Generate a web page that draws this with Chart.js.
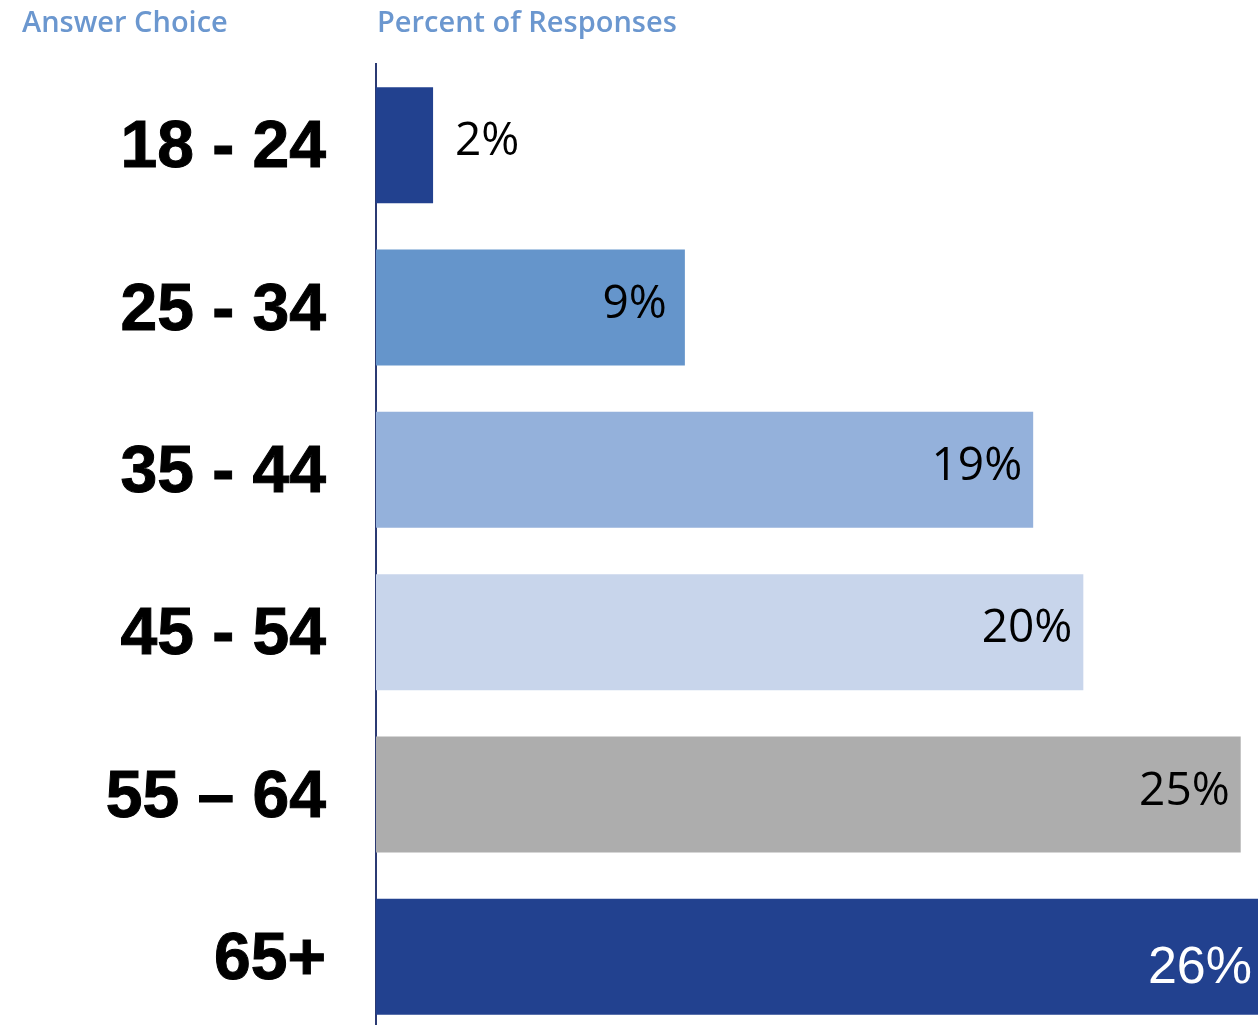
<!DOCTYPE html>
<html>
<head>
<meta charset="utf-8">
<script src="https://cdn.jsdelivr.net/npm/chart.js@4.4.1/dist/chart.umd.min.js"></script>
<style>
  html, body { margin: 0; padding: 0; background: #fff; overflow: hidden; }
  #frame { width: 1258px; height: 1025px; overflow: hidden; position: relative; }
  #ageChart { position: absolute; left: 0; top: 0; }
</style>
</head>
<body>
<div id="frame"><canvas id="ageChart" width="1258" height="1038"></canvas></div>
<script>
// ---------- DATA ----------
const ageGroups = ['18 - 24', '25 - 34', '35 - 44', '45 - 54', '55 \u2013 64', '65+'];
const responsePct = [1.65, 8.93, 19.0, 20.45, 25.0, 26.0];
const barColors = ['#22418f', '#6595cb', '#94b1db', '#c8d5eb', '#adadad', '#22418f'];
const headerLeft = 'Answer Choice';
const headerRight = 'Percent of Responses';

// headers above the chart
const headerPlugin = {
  id: 'headers',
  afterDraw(chart) {
    const ctx = chart.ctx;
    ctx.save();
    ctx.fillStyle = '#6b97cf';
    ctx.font = '600 29px "Open Sans"';
    ctx.textBaseline = 'alphabetic';
    ctx.textAlign = 'left';
    ctx.fillText(headerLeft, 22, 32);
    ctx.fillText(headerRight, 377, 32);
    ctx.restore();
  }
};

// value labels at bar ends
const valueLabels = {
  id: 'valueLabels',
  afterDatasetsDraw(chart) {
    const ctx = chart.ctx;
    const area = chart.chartArea;
    const meta = chart.getDatasetMeta(0);
    ctx.save();
    ctx.textBaseline = 'middle';
    meta.data.forEach(function (bar, i) {
      const txt = Math.round(responsePct[i]) + '%';
      const end = Math.min(bar.x, area.right);
      if (i === 0) {
        ctx.font = '500 46px "Open Sans"';
        ctx.fillStyle = '#000';
        ctx.textAlign = 'left';
        ctx.fillText(txt, end + 22, bar.y - 3);
      } else if (end >= area.right) {
        ctx.font = '52px "Liberation Sans"';
        ctx.fillStyle = '#fff';
        ctx.textAlign = 'right';
        ctx.fillText(txt, end - 6, bar.y + 12);
      } else {
        ctx.font = '500 46px "Open Sans"';
        ctx.fillStyle = '#000';
        ctx.textAlign = 'right';
        ctx.fillText(txt, end - (i === 1 ? 18 : 11), bar.y - 3);
      }
    });
    ctx.restore();
  }
};

var ctxBar = document.getElementById('ageChart').getContext('2d');
var ageChart = new Chart(ctxBar, {
  type: 'bar',
  data: {
    labels: ageGroups,
    datasets: [{
      label: 'Percent of Responses',
      data: responsePct,
      backgroundColor: barColors,
      borderWidth: 0,
      categoryPercentage: 1,
      barPercentage: 0.715
    }]
  },
  options: {
    indexAxis: 'y',
    responsive: false,
    animation: false,
    layout: { autoPadding: false, padding: { top: 64, right: 0, bottom: 0, left: 0 } },
    plugins: {
      legend: { display: false },
      tooltip: { enabled: false }
    },
    scales: {
      x: {
        display: false,
        min: 0,
        max: 25.5
      },
      y: {
        afterFit(scale) {
          scale.width = 376;
          scale.paddingTop = 0;
          scale.paddingBottom = 0;
        },
        grid: { display: false, drawTicks: false },
        border: { display: true, color: '#2b3a73', width: 2 },
        ticks: {
          color: '#000',
          padding: 50,
          labelOffset: 4,
          textStrokeColor: '#000',
          textStrokeWidth: 1,
          font: { family: '"Liberation Sans"', weight: 'bold', size: 66 }
        }
      }
    }
  },
  plugins: [headerPlugin, valueLabels]
});
</script>
</body>
</html>
